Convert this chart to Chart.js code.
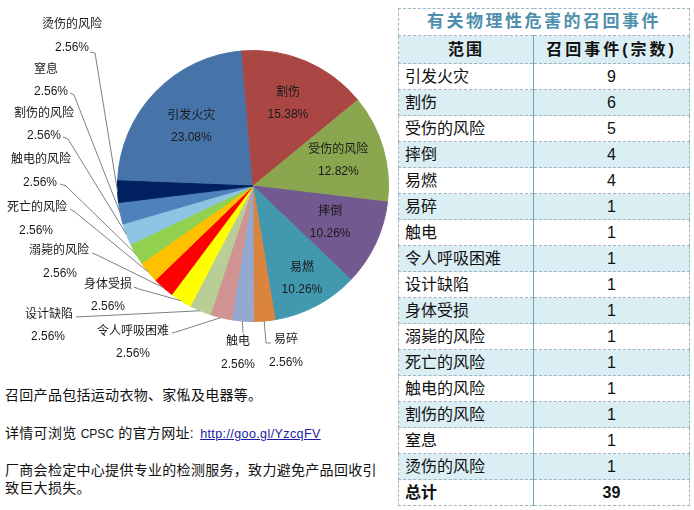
<!DOCTYPE html>
<html>
<head>
<meta charset="utf-8">
<script src="https://cdn.jsdelivr.net/npm/chart.js@4.4.0/dist/chart.umd.min.js"></script>
<style>
  body { margin: 0; background: #fff; width: 694px; height: 510px; overflow: hidden; position: relative;
         font-family: "Liberation Sans", "Noto Sans CJK SC", sans-serif; color: #111; }
  #pieChart { position: absolute; left: 0; top: 0; }
  #recallTable { position: absolute; left: 398px; top: 8px; width: 291px; border-collapse: collapse;
                 table-layout: fixed; font-size: 16px; }
  #recallTable td { border: 1px dashed #9db4c2; height: 25px; padding: 0 0 0 6px; line-height: 20px; }
  #recallTable td.num { text-align: center; padding: 0; }
  #recallTable td.c1 { border-right: 1px solid #6fa7bd; }
  #recallTable tr.alt td { background: #daeef3; }
  #recallTable td.title { color: #4f8fad; font-weight: bold; font-size: 17px; letter-spacing: 2.5px;
                          text-align: center; height: 26px; padding: 0; }
  #recallTable tr.head td { background: #daeef3; font-weight: bold; text-align: center; padding: 0; height: 27px;
                            letter-spacing: 2px; }
  #recallTable tr.head td + td { letter-spacing: 3px; }
  #recallTable tr.total td { font-weight: bold; }
  .note { position: absolute; left: 5px; font-size: 14px; letter-spacing: 0.3px; line-height: 18px; }
  .note .latin { font-size: 12px; letter-spacing: 0; }
  .note a { color: #1a1aa6; font-size: 12.5px; letter-spacing: 0.4px; margin-left: 2px; }
</style>
</head>
<body>
<canvas id="pieChart" width="395" height="380"></canvas>
<table id="recallTable"></table>
<div class="note" style="top:386px">召回产品包括运动衣物、家俬及电器等。</div>
<div class="note" style="top:424px">详情可浏览 <span class="latin">CPSC</span> 的官方网址: <a href="#">http://goo.gl/YzcqFV</a></div>
<div class="note" style="top:461px">厂商会检定中心提供专业的检测服务，致力避免产品回收引<br>致巨大损失。</div>

<script>
// categories in table order (also pie order, clockwise)
const categories = ["引发火灾", "割伤", "受伤的风险", "摔倒", "易燃", "易碎", "触电", "令人呼吸困难",
    "设计缺陷", "身体受损", "溺毙的风险", "死亡的风险", "触电的风险", "割伤的风险", "窒息", "烫伤的风险"]
const counts = [9, 6, 5, 4, 4, 1, 1, 1, 1, 1, 1, 1, 1, 1, 1, 1]
const tableTitle = "有关物理性危害的召回事件"
const tableHeaders = ["范围", "召回事件(宗数)"]
const totalLabel = "总计"

const sliceColors = ["#4674a8", "#aa4744", "#8aa64f", "#72598f", "#4298ae", "#db843d", "#93a9d0", "#d19493",
    "#b9cd97", "#ffff00", "#ff0000", "#ffc000", "#92d050", "#8dc4e4", "#4f81bd", "#002060"]

const total = counts.reduce((a, b) => a + b, 0)

// big slices get labels inside, at this fraction of the radius
const insideFrac = [0.63, 0.66, 0.656, 0.63, 0.774]
// outside labels for the small slices: name centre, percent centre, leader points (label end -> elbow)
const outsideLayout = [
    { nx: 286, ny: 340, px: 286, py: 363, pts: [[271, 343], [266, 343]] },
    { nx: 238, ny: 342, px: 238, py: 365, pts: [[243, 333]] },
    { nx: 133, ny: 332, px: 133, py: 354, pts: [[172, 333], [176, 332]] },
    { nx: 49, ny: 315, px: 48, py: 337, pts: [[76, 317]] },
    { nx: 108, ny: 285, px: 108, py: 307, pts: [[134, 287], [139, 289]] },
    { nx: 59, ny: 251, px: 60, py: 274, pts: [[92, 253], [97, 255]] },
    { nx: 37, ny: 208, px: 36, py: 231, pts: [[70, 209], [75, 212]] },
    { nx: 41, ny: 160, px: 40, py: 183, pts: [[60, 184], [66, 186]] },
    { nx: 44, ny: 114, px: 44, py: 136, pts: [[63, 137], [68, 139]] },
    { nx: 46, ny: 70, px: 51, py: 92, pts: [[70, 93], [74, 95]] },
    { nx: 72, ny: 25, px: 72, py: 48, pts: [[90, 52], [95, 53]] }
]

const FONT = "12px 'Liberation Sans', 'Noto Sans CJK SC', sans-serif"

const sliceLabels = {
    id: "sliceLabels",
    afterDatasetsDraw(chart) {
        const ctx = chart.ctx
        const arcs = chart.getDatasetMeta(0).data
        ctx.save()
        ctx.font = FONT
        ctx.textAlign = "center"
        ctx.textBaseline = "middle"
        ctx.fillStyle = "#1a1a1a"
        arcs.forEach((arc, i) => {
            const mid = (arc.startAngle + arc.endAngle) / 2
            const pct = (counts[i] / total * 100).toFixed(2) + "%"
            if (i < insideFrac.length) {
                const r = arc.outerRadius * insideFrac[i]
                const x = arc.x + Math.cos(mid) * r
                const y = arc.y + Math.sin(mid) * r
                ctx.fillText(categories[i], x, y - 11)
                ctx.fillText(pct, x, y + 11)
                return
            }
            const lay = outsideLayout[i - insideFrac.length]
            ctx.fillText(categories[i], lay.nx, lay.ny)
            ctx.fillText(pct, lay.px, lay.py)
            // leader line from the label to the slice edge
            ctx.strokeStyle = "#7f7f7f"
            ctx.lineWidth = 1
            ctx.beginPath()
            ctx.moveTo(lay.pts[0][0], lay.pts[0][1])
            for (let k = 1; k < lay.pts.length; k++) ctx.lineTo(lay.pts[k][0], lay.pts[k][1])
            ctx.lineTo(arc.x + Math.cos(mid) * arc.outerRadius, arc.y + Math.sin(mid) * arc.outerRadius)
            ctx.stroke()
        })
        ctx.restore()
    }
}

function buildTable() {
    const tbl = document.getElementById("recallTable")
    let html = '<colgroup><col style="width:135px"><col style="width:156px"></colgroup>'
    html += '<tr><td class="title" colspan="2">' + tableTitle + '</td></tr>'
    html += '<tr class="head"><td class="c1">' + tableHeaders[0] + '</td><td>' + tableHeaders[1] + '</td></tr>'
    categories.forEach((c, i) => {
        html += '<tr' + (i % 2 ? ' class="alt"' : '') + '><td class="c1">' + c + '</td><td class="num">' + counts[i] + '</td></tr>'
    })
    html += '<tr class="total"><td class="c1">' + totalLabel + '</td><td class="num">' + total + '</td></tr>'
    tbl.innerHTML = html
}

function loadChart() {
    buildTable()
    new Chart(document.getElementById("pieChart"), {
        type: "pie",
        data: {
            labels: categories,
            datasets: [{
                data: counts,
                backgroundColor: sliceColors,
                borderColor: sliceColors, // same colour as fill so no white seams
                borderWidth: 1
            }]
        },
        options: {
            responsive: false,
            animation: false,
            rotation: -87.8,
            layout: { padding: { left: 117, right: 6, top: 50, bottom: 58 } },
            plugins: {
                legend: { display: false },
                tooltip: { enabled: false }
            }
        },
        plugins: [sliceLabels]
    })
}

window.addEventListener("load", loadChart)
</script>
</body>
</html>
